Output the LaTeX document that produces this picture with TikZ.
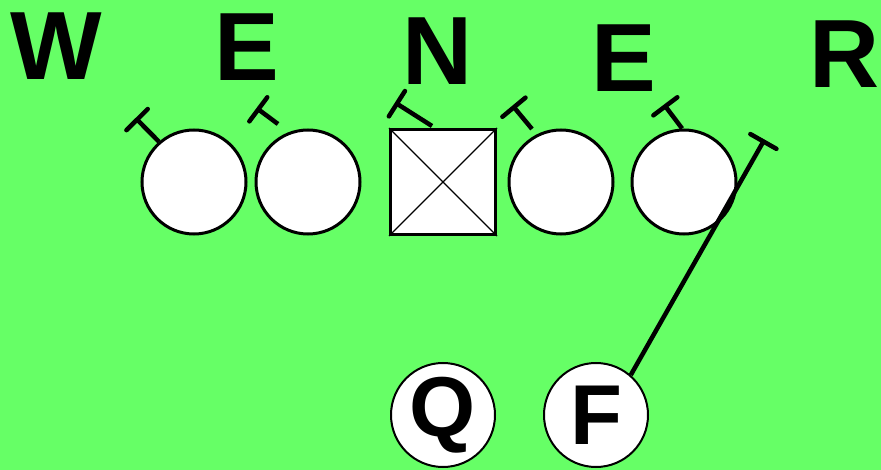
\documentclass[tikz,border=0pt]{standalone}
\usepackage{fontspec}
\setmainfont{Liberation Sans}
\usetikzlibrary{arrows.meta,positioning}
\definecolor{fieldgreen}{RGB}{102,255,102}
\tikzset{
  plyr/.style={circle,draw,fill=white,line width=3pt,minimum size=104pt,inner sep=0pt},
  ctrbox/.style={rectangle,draw,fill=white,line width=3pt,minimum size=105pt,inner sep=0pt},
  backplyr/.style={plyr,line width=2pt,font=\fontsize{85}{85}\selectfont\bfseries},
  gaplbl/.style={font=\fontsize{97}{97}\selectfont\bfseries,inner sep=0pt,anchor=base},
  blk/.style={-{Bar[width=30pt,round]},line width=4.5pt},
  xline/.style={line width=1.2pt}
}

\begin{document}
\begin{tikzpicture}[x=1pt,y=-1pt]
  \fill[fieldgreen] (0,0) rectangle (881,470);
  \useasboundingbox (0,0) rectangle (881,470);

  % gap letters
  \node[gaplbl] (gw) at (56.5,80) {W};
  \node[gaplbl] (ge1) at (246.5,81) {E};
  \node[gaplbl] (gn) at (438,85) {N};
  \node[gaplbl] (ge2) at (623.5,92) {E};
  \node[gaplbl] (gr) at (845,88) {R};

  % line
  \node[plyr] (lt) at (194,182) {};
  \node[plyr] (lg) at (308,182) {};
  \node[ctrbox] (cn) at (443,182) {};
  \node[plyr] (rg) at (561,182) {};
  \node[plyr] (rt) at (684,182) {};
  \draw[xline] (cn.north west) -- (cn.south east);
  \draw[xline] (cn.north east) -- (cn.south west);

  % backs
  \node[backplyr] (qb) at (443,415) {Q};
  \node[backplyr] (fb) at (596,415) {F};

  % blocks
  \coordinate (lgs) at (278,124);
  \coordinate (cns) at (432,126);
  \coordinate (rgs) at (532,129);
  \coordinate (ltb) at (135.5,118);
  \coordinate (lgb) at (256.5,108);
  \coordinate (cnb) at (395,102.5);
  \coordinate (rgb) at (512.5,105.5);
  \coordinate (rtb) at (664,104.5);
  \coordinate (fbb) at (764.5,139.5);
  \draw[blk] (lt.131) -- (ltb);
  \draw[blk] (lgs) -- (lgb);
  \draw[blk] (cns) -- (cnb);
  \draw[blk] (rgs) -- (rgb);
  \draw[blk] (rt.92) -- (rtb);
  \draw[blk] (fb.49) -- (fbb);
\end{tikzpicture}
\end{document}
